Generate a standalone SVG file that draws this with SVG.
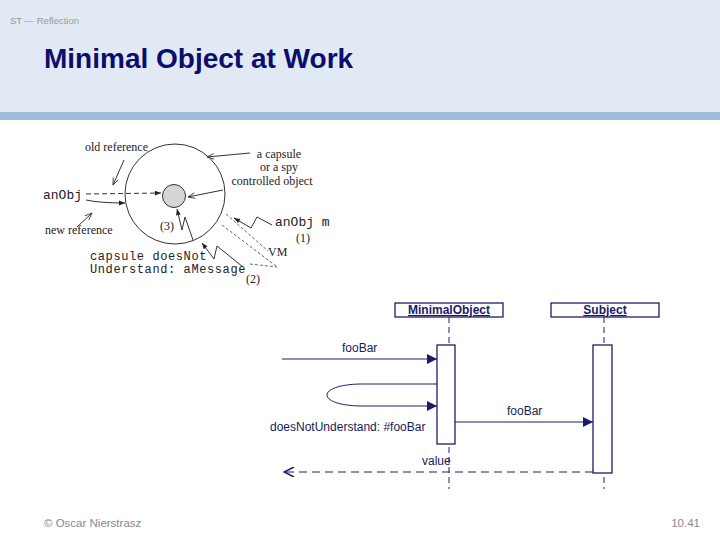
<svg xmlns="http://www.w3.org/2000/svg" width="720" height="540" viewBox="0 0 720 540">
<style>
.serif{font-family:"Liberation Serif","DejaVu Serif",serif;font-size:12px;fill:#222}
.mono{font-family:"Liberation Mono","DejaVu Sans Mono",monospace;font-size:13px;fill:#222}
.mono2{font-family:"Liberation Mono","DejaVu Sans Mono",monospace;font-size:12px;letter-spacing:0.6px;fill:#222}
.ink{stroke:#333;fill:none;stroke-width:1}
.dash{stroke:#333;fill:none;stroke-width:1;stroke-dasharray:5,3}
.thin{stroke:#444;fill:none;stroke-width:0.8;stroke-dasharray:3,2}
.seq{font-family:"Liberation Sans",Arial,sans-serif;font-size:12px;fill:#1a1a5a}
.ln{stroke:#1e1e66;fill:none;stroke-width:1}
.box{fill:#fff;stroke:#1e1e66;stroke-width:1.3}
.life{stroke:#1e1e66;stroke-width:1;stroke-dasharray:6,4;fill:none}
.hdr{font-family:"Liberation Sans",Arial,sans-serif;font-weight:bold;font-size:12px;fill:#1a1a6a;text-decoration:underline}
</style>
<defs>
<marker id="fa" viewBox="0 0 10 10" refX="10" refY="5" markerWidth="8" markerHeight="6" orient="auto" markerUnits="userSpaceOnUse">
<path d="M0,1 L10,5 L0,9 z" fill="#222"/>
</marker>
<marker id="oa" viewBox="0 0 10 10" refX="10" refY="5" markerWidth="8" markerHeight="7" orient="auto" markerUnits="userSpaceOnUse">
<path d="M0,1 L10,5 L0,9" fill="none" stroke="#333" stroke-width="1.2"/>
</marker>
<marker id="sf" viewBox="0 0 10 10" refX="10" refY="5" markerWidth="12" markerHeight="10" orient="auto" markerUnits="userSpaceOnUse">
<path d="M0,0 L10,5 L0,10 z" fill="#1a1a66"/>
</marker>
<marker id="so" viewBox="0 0 10 10" refX="10" refY="5" markerWidth="12" markerHeight="10" orient="auto" markerUnits="userSpaceOnUse">
<path d="M0,0 L10,5 L0,10" fill="none" stroke="#1a1a66" stroke-width="1.5"/>
</marker>
</defs>

<g id="header">
<rect x="0" y="0" width="720" height="112" fill="#e1e9f4"/>
<rect x="0" y="112" width="720" height="8" fill="#a2bcdb"/>
<text x="10" y="24" font-family="Liberation Sans,Arial,sans-serif" font-size="9.5" fill="#999">ST — Reflection</text>
<text x="44" y="68" font-family="Liberation Sans,Arial,sans-serif" font-size="28" font-weight="bold" fill="#0d0d6b">Minimal Object at Work</text>
</g>

<g id="capsule-diagram">
<g id="capsule">
<circle cx="175" cy="194" r="50" class="ink"/>
</g>
<g id="object">
<circle cx="174" cy="196" r="11.5" fill="#d6d6d6" stroke="#333" stroke-width="1"/>
</g>
<g id="labels">
<text class="serif" x="85" y="151">old reference</text>
<text class="serif" x="279" y="158" text-anchor="middle">a capsule</text>
<text class="serif" x="279" y="171" text-anchor="middle">or a spy</text>
<text class="serif" x="272" y="185" text-anchor="middle">controlled object</text>
<text class="mono" x="43" y="199">anObj</text>
<text class="serif" x="45" y="234">new reference</text>
<text class="serif" x="160" y="230" font-size="10">(3)</text>
<text class="mono" x="275" y="226">anObj m</text>
<text class="serif" x="296" y="242" font-size="10">(1)</text>
<text class="serif" x="268" y="256" font-size="12.5">VM</text>
<text class="mono2" x="90" y="260">capsule doesNot</text>
<text class="mono2" x="90" y="273">Understand: aMessage</text>
<text class="serif" x="246" y="283" font-size="10">(2)</text>
</g>
<g id="capsule-connectors">
<path d="M86,194 L161,193" class="dash" marker-end="url(#fa)"/>
<path d="M86,200 Q100,203 125,203" class="ink" marker-end="url(#fa)"/>
<path d="M124,160 L113,185" class="ink" stroke-width="0.8" marker-end="url(#oa)"/>
<path d="M77,227 L92,213" class="ink" stroke-width="0.8" marker-end="url(#oa)"/>
<path d="M250,153 L207,157" class="ink" stroke-width="0.8" marker-end="url(#oa)"/>
<path d="M223,190 L188,197" class="ink" stroke-width="0.8" marker-end="url(#oa)"/>
<path d="M193,240 L185,217 L182,230 L177,209" class="ink" stroke-width="0.9" marker-end="url(#fa)"/>
<path d="M243,267 L217,246 L214,259 L202,243" class="ink" stroke-width="0.9" marker-end="url(#fa)"/>
<path d="M272,225 L257,217 L251,228 L234,218" class="ink" stroke-width="0.9" marker-end="url(#fa)"/>
<path d="M226,214 L268,251" class="thin"/>
<path d="M222,225 L276,266" class="thin"/>
<path d="M250,264 L277,267" class="thin"/>
</g>
</g>

<g id="MinimalObject">
<rect x="395" y="303" width="108" height="14" class="box"/>
<text class="hdr" x="449" y="314" text-anchor="middle">MinimalObject</text>
<line x1="449" y1="317" x2="449" y2="489" class="life"/>
<rect x="437" y="345" width="18" height="99" class="box"/>
</g>
<g id="Subject">
<rect x="551" y="303" width="108" height="14" class="box"/>
<text class="hdr" x="605" y="314" text-anchor="middle">Subject</text>
<line x1="604" y1="317" x2="604" y2="489" class="life"/>
<rect x="593" y="345" width="19" height="128" class="box"/>
</g>

<g id="connectors">
<line x1="282" y1="359" x2="437" y2="359" class="ln" marker-end="url(#sf)"/>
<text class="seq" x="342" y="352">fooBar</text>
<path d="M437,384 L360,384 C316,385 316,405 360,406 L437,406" class="ln" marker-end="url(#sf)"/>
<text class="seq" x="270" y="431">doesNotUnderstand: #fooBar</text>
<line x1="455" y1="422" x2="593" y2="422" class="ln" marker-end="url(#sf)"/>
<text class="seq" x="507" y="415">fooBar</text>
<line x1="593" y1="472" x2="284" y2="472" class="ln" stroke-dasharray="8,5" marker-end="url(#so)"/>
<text class="seq" x="422" y="465">value</text>
</g>

<g id="footer">
<text x="44" y="527" font-family="Liberation Sans,Arial,sans-serif" font-size="11.5" fill="#888">© Oscar Nierstrasz</text>
<text x="700" y="527" text-anchor="end" font-family="Liberation Sans,Arial,sans-serif" font-size="11.5" fill="#888">10.41</text>
</g>
</svg>
